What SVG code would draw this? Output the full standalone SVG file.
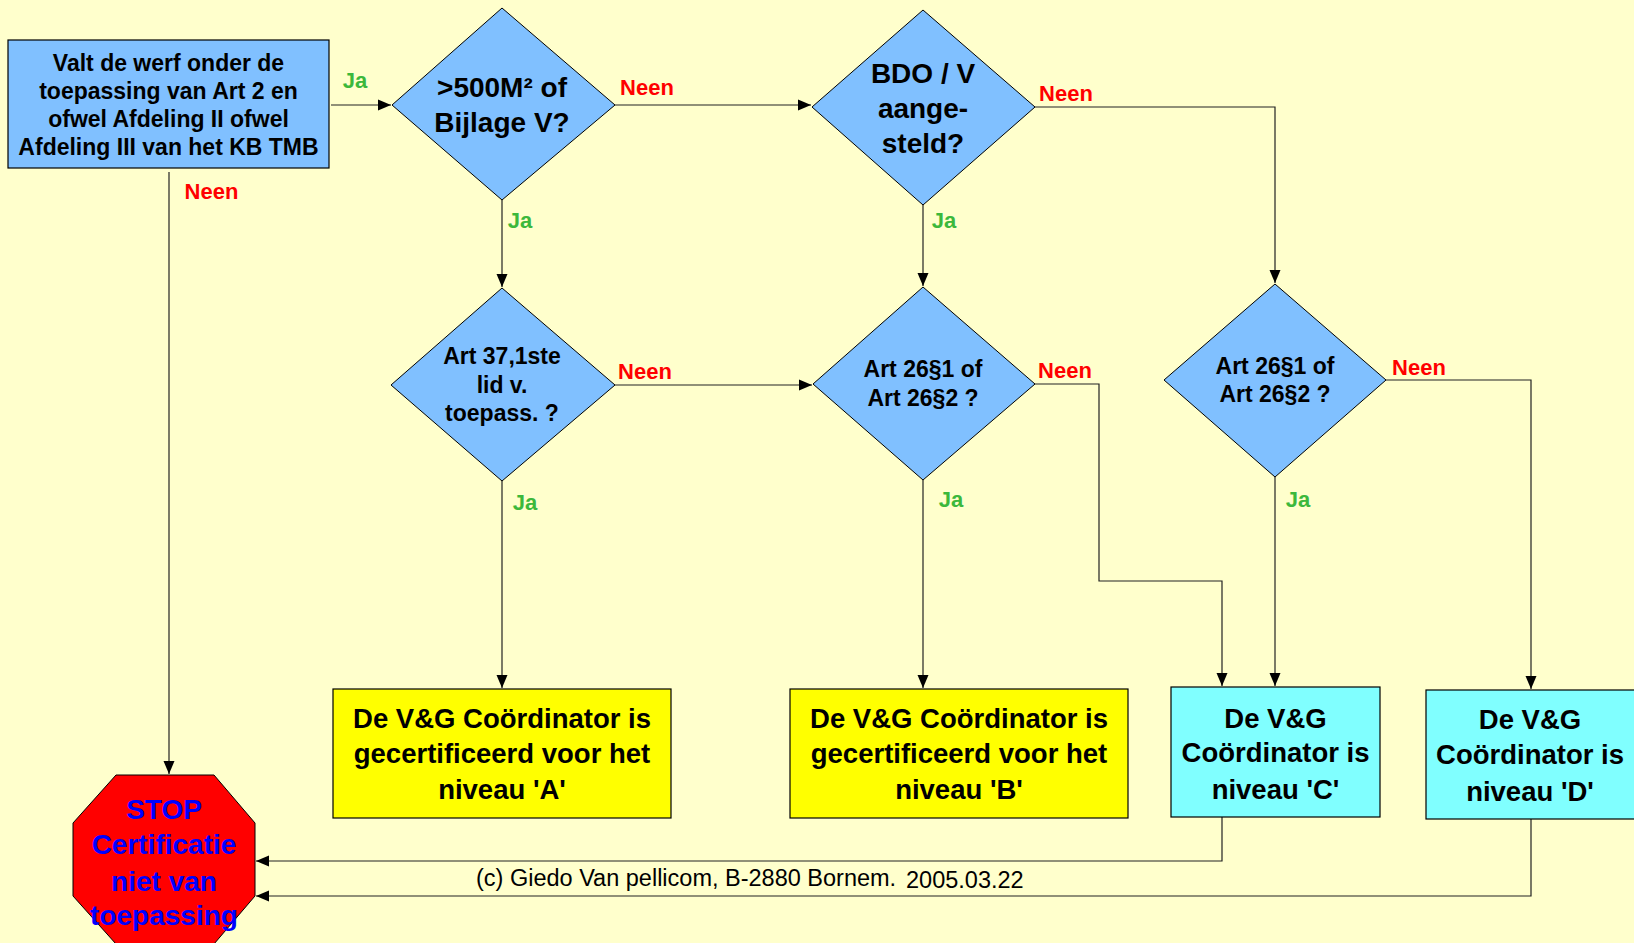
<svg xmlns="http://www.w3.org/2000/svg" width="1634" height="943" viewBox="0 0 1634 943">
<style>
.bg{fill:#FFFFCC}
.q{fill:#80C0FF;stroke:#000;stroke-width:1}
.bx{stroke:#000;stroke-width:1.2}
.t{font-family:"Liberation Sans",Arial,sans-serif;font-weight:bold;fill:#000;text-anchor:middle}
.ja{font-family:"Liberation Sans",Arial,sans-serif;font-weight:bold;font-size:22px;fill:#3CB83C;text-anchor:middle}
.ne{font-family:"Liberation Sans",Arial,sans-serif;font-weight:bold;font-size:22px;fill:#FF0000;text-anchor:middle}
.c{fill:none;stroke:#222;stroke-width:1.2}
.cp{font-family:"Liberation Sans",Arial,sans-serif;font-size:23.5px;fill:#000}
.s{fill:#0000FF}
</style>
<defs>
<marker id="ar" markerWidth="14" markerHeight="12" refX="13" refY="6" orient="auto" markerUnits="userSpaceOnUse">
<path d="M0,0.5 L13,6 L0,11.5 Z" fill="#000"/>
</marker>
</defs>
<rect class="bg" x="0" y="0" width="1634" height="943"/>

<g id="connectors">
<path class="c" d="M331,105 H391" marker-end="url(#ar)"/>
<path class="c" d="M615,105 H811" marker-end="url(#ar)"/>
<path class="c" d="M1035,107 H1275 V283" marker-end="url(#ar)"/>
<path class="c" d="M502,200 V287" marker-end="url(#ar)"/>
<path class="c" d="M923,205 V286" marker-end="url(#ar)"/>
<path class="c" d="M615,385 H812" marker-end="url(#ar)"/>
<path class="c" d="M1035,384 H1099 V581 H1222 V686" marker-end="url(#ar)"/>
<path class="c" d="M1275,477 V686" marker-end="url(#ar)"/>
<path class="c" d="M1386,380 H1531 V689" marker-end="url(#ar)"/>
<path class="c" d="M502,481 V688" marker-end="url(#ar)"/>
<path class="c" d="M923,480 V688" marker-end="url(#ar)"/>
<path class="c" d="M169,172 V774" marker-end="url(#ar)"/>
<path class="c" d="M1222,817 V861 H256" marker-end="url(#ar)"/>
<path class="c" d="M1531,819 V896 H256" marker-end="url(#ar)"/>
</g>

<g id="start">
<rect class="bx" x="8" y="40" width="321" height="128" fill="#80C0FF"/>
<text class="t" font-size="23" x="168.5" y="70.5">Valt de werf onder de</text>
<text class="t" font-size="23" x="168.5" y="98.7">toepassing van Art 2 en</text>
<text class="t" font-size="23" x="168.5" y="126.8">ofwel Afdeling II ofwel</text>
<text class="t" font-size="23" x="168.5" y="155">Afdeling III van het KB TMB</text>
</g>

<g id="d500">
<polygon class="q" points="502,8 615,105 502,200 392,105"/>
<text class="t" font-size="28" x="502" y="96.5">&gt;500M² of</text>
<text class="t" font-size="28" x="502" y="132">Bijlage V?</text>
</g>

<g id="dbdo">
<polygon class="q" points="923,10 1035,107 923,205 812,107"/>
<text class="t" font-size="28" x="923" y="83">BDO / V</text>
<text class="t" font-size="28" x="923" y="118">aange-</text>
<text class="t" font-size="28" x="923" y="153">steld?</text>
</g>

<g id="dart37">
<polygon class="q" points="502,288 615,385 502,481 391,385"/>
<text class="t" font-size="23" x="502" y="364">Art 37,1ste</text>
<text class="t" font-size="23" x="502" y="392.5">lid v.</text>
<text class="t" font-size="23" x="502" y="420.5">toepass. ?</text>
</g>

<g id="dart26a">
<polygon class="q" points="923,287 1035,384 923,480 813,384"/>
<text class="t" font-size="23" x="923" y="377">Art 26§1 of</text>
<text class="t" font-size="23" x="923" y="406">Art 26§2 ?</text>
</g>

<g id="dart26b">
<polygon class="q" points="1275,284 1386,380 1275,477 1164,380"/>
<text class="t" font-size="23" x="1275" y="374">Art 26§1 of</text>
<text class="t" font-size="23" x="1275" y="402">Art 26§2 ?</text>
</g>

<g id="boxA">
<rect class="bx" x="333" y="689" width="338" height="129" fill="#FFFF00"/>
<text class="t" font-size="27.5" x="502" y="727.5">De V&amp;G Coördinator is</text>
<text class="t" font-size="27.5" x="502" y="763">gecertificeerd voor het</text>
<text class="t" font-size="27.5" x="502" y="798.5">niveau 'A'</text>
</g>

<g id="boxB">
<rect class="bx" x="790" y="689" width="338" height="129" fill="#FFFF00"/>
<text class="t" font-size="27.5" x="959" y="727.5">De V&amp;G Coördinator is</text>
<text class="t" font-size="27.5" x="959" y="763">gecertificeerd voor het</text>
<text class="t" font-size="27.5" x="959" y="798.5">niveau 'B'</text>
</g>

<g id="boxC">
<rect class="bx" x="1171" y="687" width="209" height="130" fill="#80FFFF"/>
<text class="t" font-size="27.5" x="1275.5" y="727.5">De V&amp;G</text>
<text class="t" font-size="27.5" x="1275.5" y="761.5">Coördinator is</text>
<text class="t" font-size="27.5" x="1275.5" y="798.5">niveau 'C'</text>
</g>

<g id="boxD">
<rect class="bx" x="1426" y="690" width="212" height="129" fill="#80FFFF"/>
<text class="t" font-size="27.5" x="1530" y="728.5">De V&amp;G</text>
<text class="t" font-size="27.5" x="1530" y="764">Coördinator is</text>
<text class="t" font-size="27.5" x="1530" y="800.5">niveau 'D'</text>
</g>

<g id="stop">
<polygon points="116,775 214,775 255,823 255,896 214,944 116,944 73,896 73,823" fill="#FF0000" stroke="#000" stroke-width="1"/>
<text class="t s" font-size="28" x="164" y="818.5">STOP</text>
<text class="t s" font-size="28" x="164" y="853.5">Certificatie</text>
<text class="t s" font-size="28" x="164" y="890.5">niet van</text>
<text class="t s" font-size="28" x="164" y="924.5">toepassing</text>
</g>

<g id="labels">
<text class="ja" x="355" y="88">Ja</text>
<text class="ne" x="647" y="94.5">Neen</text>
<text class="ne" x="211.5" y="199">Neen</text>
<text class="ja" x="520" y="228">Ja</text>
<text class="ja" x="944" y="228">Ja</text>
<text class="ne" x="1066" y="101">Neen</text>
<text class="ne" x="645" y="379">Neen</text>
<text class="ne" x="1065" y="378">Neen</text>
<text class="ne" x="1419" y="375">Neen</text>
<text class="ja" x="525" y="510">Ja</text>
<text class="ja" x="951" y="507">Ja</text>
<text class="ja" x="1298" y="507">Ja</text>
</g>

<g id="copyright">
<text class="cp" x="476" y="886">(c) Giedo Van pellicom, B-2880 Bornem.</text>
<text class="cp" x="906" y="888" font-size="22">2005.03.22</text>
</g>
</svg>
